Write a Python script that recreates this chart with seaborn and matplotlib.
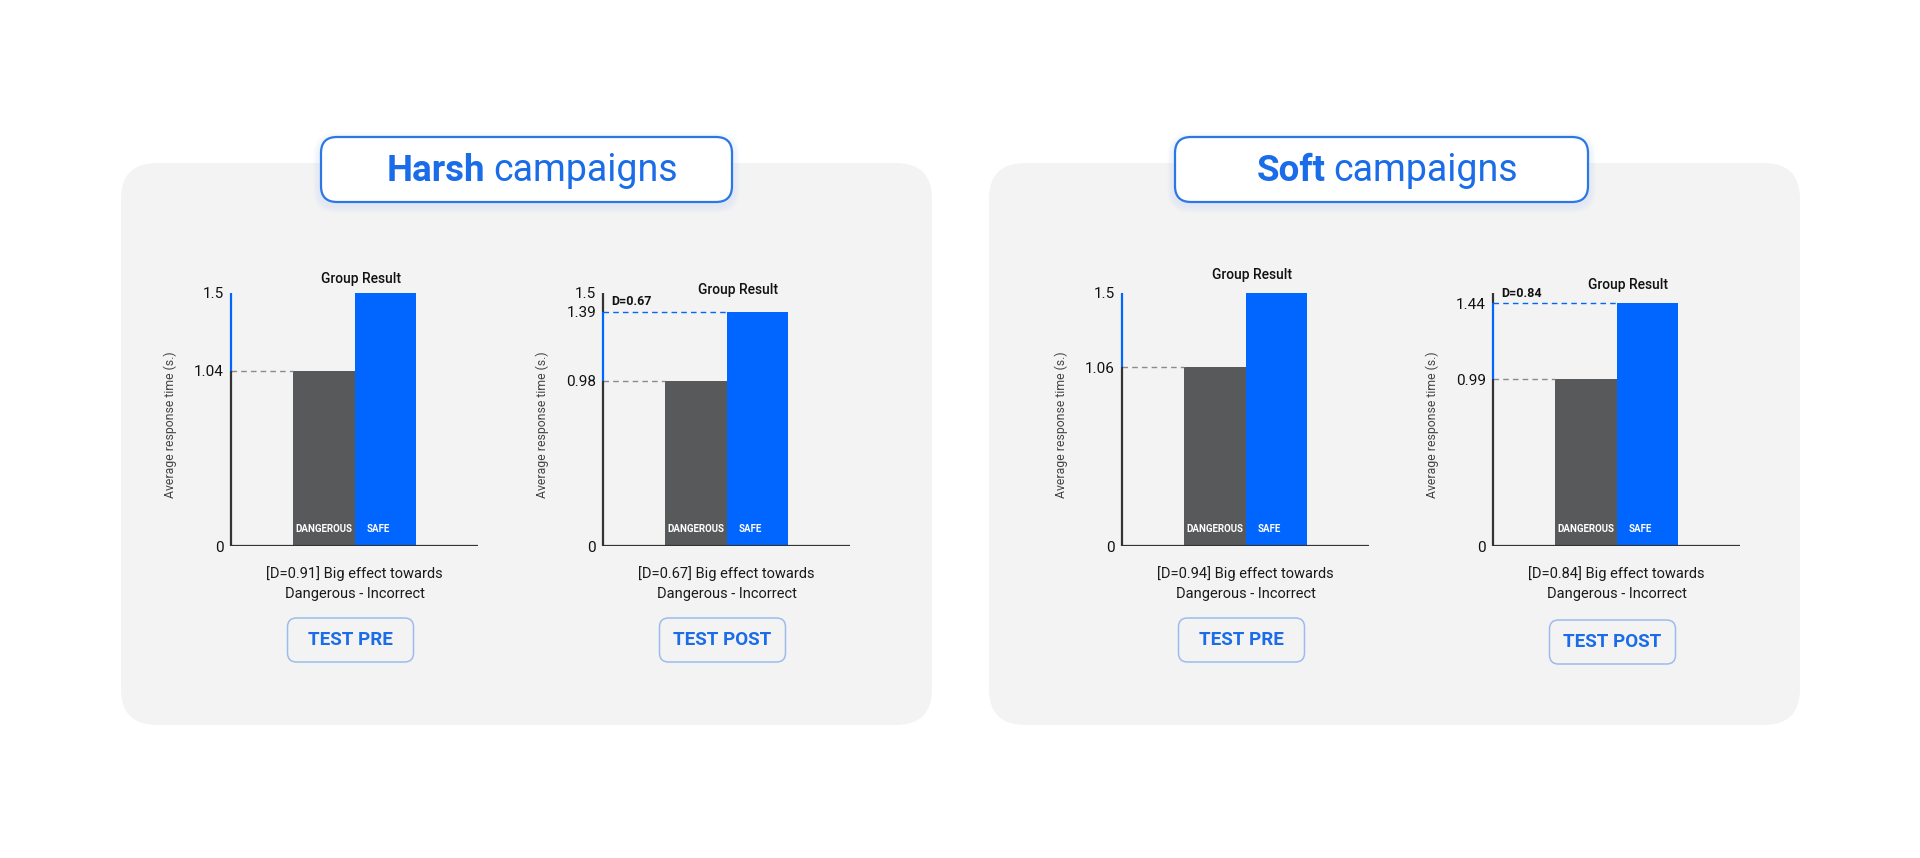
import numpy as np
import pandas as pd
import matplotlib.pyplot as plt
import seaborn as sns
from matplotlib.patches import FancyBboxPatch

# data
categories = ["DANGEROUS", "SAFE"]
groups = ["Harsh", "Soft"]
tests = ["TEST PRE", "TEST POST", "TEST PRE", "TEST POST"]
harsh_pre = [1.04, 1.5]
harsh_post = [0.98, 1.39]
soft_pre = [1.06, 1.5]
soft_post = [0.99, 1.44]
effect_d = [0.91, 0.67, 0.94, 0.84]
tick_labels = [["0", "1.04", "1.5"],
               ["0", "0.98", "1.39", "1.5"],
               ["0", "1.06", "1.5"],
               ["0", "0.99", "1.44"]]

series = [harsh_pre, harsh_post, soft_pre, soft_post]

# colours
gray_bar = "#58595b"
blue_bar = "#0066ff"
title_blue = "#1a6ce8"
axis_dark = "#333333"
panel_gray = "#f3f3f3"

sns.set_style("white")
plt.rcParams["font.family"] = ["Roboto", "DejaVu Sans"]

fig = plt.figure(figsize=(19.2, 8.58), dpi=100)

# background axes in pixel units for panels / boxes / free text
bg = fig.add_axes([0, 0, 1, 1])
bg.set_xlim(0, 1920)
bg.set_ylim(858, 0)
bg.axis("off")

# grey rounded panels
for x0, x1 in [(121, 932), (989, 1800)]:
    bg.add_patch(FancyBboxPatch((x0, 163), x1 - x0, 725 - 163,
                                boxstyle="round,pad=0,rounding_size=36",
                                fc=panel_gray, ec="none", zorder=0))

# title boxes with a soft glow
title_boxes = [(321, 732), (1175, 1588)]
for x0, x1 in title_boxes:
    for k in range(8, 0, -1):
        bg.add_patch(FancyBboxPatch((x0 - k, 137 - k + 3), x1 - x0 + 2 * k, 65 + 2 * k,
                                    boxstyle=f"round,pad=0,rounding_size={16 + k}",
                                    fc="#c8d8f4", ec="none", alpha=0.05, zorder=1))
    bg.add_patch(FancyBboxPatch((x0, 137), x1 - x0, 65,
                                boxstyle="round,pad=0,rounding_size=16",
                                fc="white", ec="#2b77e6", lw=1.6, zorder=2))

renderer = fig.canvas.get_renderer()
for name, (x0, x1) in zip(groups, title_boxes):
    t1 = bg.text(0, 181, name, fontsize=26.5, fontweight="bold", color=title_blue,
                 ha="left", va="baseline", zorder=3)
    t2 = bg.text(0, 181, "campaigns", fontsize=27, color=title_blue,
                 ha="left", va="baseline", zorder=3)
    w1 = t1.get_window_extent(renderer).width
    w2 = t2.get_window_extent(renderer).width
    start = (x0 + x1) / 2 + 6 - (w1 + 8 + w2) / 2
    t1.set_x(start)
    t2.set_x(start + w1 + 8)

# chart axes
lefts = [231, 603, 1122, 1493]
ax_w, ax_top, ax_bot = 247, 293, 546
title_y = [1.055, 1.01, 1.07, 1.03]
title_x = [0.525, 0.545, 0.525, 0.545]

for i, vals in enumerate(series):
    ax = fig.add_axes([lefts[i] / 1920, 1 - ax_bot / 858,
                       ax_w / 1920, (ax_bot - ax_top) / 858])
    ax.set_facecolor("none")
    sns.barplot(x=categories, y=vals, hue=categories, palette=[gray_bar, blue_bar],
                width=1, saturation=1, legend=False, linewidth=0, edgecolor="none", ax=ax)
    ax.set_xlim(-1.5, 2.5)
    ax.set_ylim(0, 1.5)
    for s in ax.spines.values():
        s.set_visible(False)

    dang, safe = vals
    top = 1.5
    # baseline and two-tone y axis
    ax.axhline(0, color=axis_dark, lw=1.6, zorder=3)
    ax.plot([-1.5, -1.5], [0, dang], color=axis_dark, lw=1.6,
            solid_capstyle="butt", clip_on=False, zorder=3)
    ax.plot([-1.5, -1.5], [dang, safe], color=blue_bar, lw=1.6,
            solid_capstyle="butt", clip_on=False, zorder=3)
    if safe < top:
        ax.plot([-1.5, -1.5], [safe, top], color=axis_dark, lw=1.6,
                solid_capstyle="butt", clip_on=False, zorder=3)

    p_d, p_s = ax.patches[0], ax.patches[1]
    ax.plot([-1.5, p_d.get_x()], [dang, dang], color="#8a8a8a", lw=1,
            ls=(0, (4, 3)), zorder=2)
    if safe < top:
        ax.plot([-1.5, p_s.get_x()], [safe, safe], color=blue_bar, lw=1,
                ls=(0, (4, 3)), zorder=2)
        ax.annotate(f"D={effect_d[i]:.2f}", xy=(-1.5, safe), xytext=(6, 7),
                    textcoords="offset points", ha="left", va="center",
                    fontsize=9, fontweight="bold", color="#111111")

    ticks = [float(t) for t in tick_labels[i]]
    ax.set_yticks(ticks)
    ax.set_yticklabels(tick_labels[i])
    ax.tick_params(axis="y", length=0, pad=5, labelsize=11, labelcolor="#111111")
    ax.set_xticks([])
    ax.set_xlabel("")
    ax.set_ylabel("Average response time (s.)", fontsize=8.8, color="#444444")
    ax.yaxis.set_label_coords(-54 / ax_w, 0.48)

    # labels inside bars
    ax.annotate(categories[0], xy=(p_d.get_x() + p_d.get_width() / 2, 0),
                xytext=(0, 12), textcoords="offset points", ha="center", va="center",
                fontsize=7, fontweight="bold", color="white")
    ax.annotate(categories[1], xy=(p_s.get_x(), 0), xytext=(8.5, 12),
                textcoords="offset points", ha="left", va="center",
                fontsize=7, fontweight="bold", color="white")

    ax.text(title_x[i], title_y[i], "Group Result", transform=ax.transAxes,
            ha="center", va="center", fontsize=10, fontweight="medium", color="#111111")

    # text under the chart
    cx = lefts[i] + ax_w / 2
    bg.text(cx, 574, f"[D={effect_d[i]:.2f}] Big effect towards", ha="center",
            va="center", fontsize=10.5, color="#1a1a1a")
    bg.text(cx, 594, "Dangerous - Incorrect", ha="center", va="center",
            fontsize=10.5, color="#1a1a1a")

    by = 618 if i < 3 else 620
    bg.add_patch(FancyBboxPatch((cx - 4 - 63, by), 126, 44,
                                boxstyle="round,pad=0,rounding_size=9",
                                fc="none", ec="#9dbcec", lw=1.1, zorder=2))
    bg.text(cx - 4, by + 22, tests[i], ha="center", va="center",
            fontsize=13.5, fontweight="bold", color=title_blue)

fig.savefig("out.png", dpi=100, facecolor="white")
